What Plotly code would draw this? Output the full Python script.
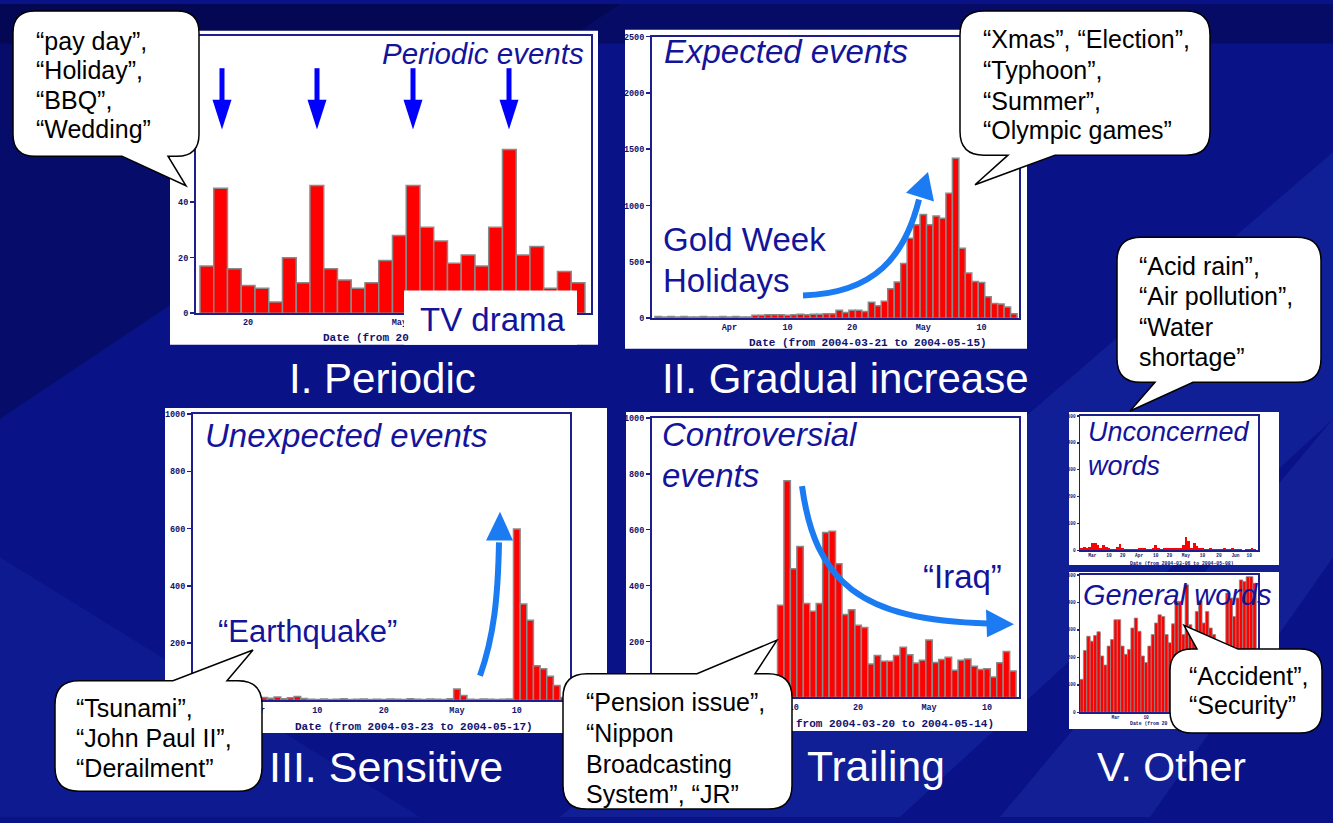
import plotly.graph_objects as go

W, H = 1333, 823

# ---------------- data ----------------
# I. Periodic ("TV drama")
periodic_counts = [17, 45, 16, 10, 9, 4, 20, 11, 46, 16, 12, 9, 11, 19,
                   28, 46, 31, 26, 18, 21, 17, 31, 59, 21, 24, 9, 15, 11]
periodic_tick_pos = [3, 14]
periodic_tick_text = ["20", "May"]
periodic_y_ticks = [0, 20, 40, 60, 80, 100]

# II. Gradual increase ("Gold Week Holidays"), 2004-03-21 .. 2004-05-15
gradual_counts = [15, 10, 15, 10, 15, 10, 10, 15, 10, 10, 15, 10, 15, 10, 10,
                  25, 25, 30, 30, 30, 25, 30, 35, 30, 35, 35, 40, 40,
                  70, 50, 70, 70, 60, 140, 110, 150, 260, 320, 485, 710, 830, 920,
                  830, 906, 886, 1110, 1420, 620, 400, 325, 316, 190, 130, 126, 100, 40]
gradual_tick_pos = [11, 20, 30, 41, 50]
gradual_tick_text = ["Apr", "10", "20", "May", "10"]
gradual_y_ticks = [0, 500, 1000, 1500, 2000, 2500]

# III. Sensitive ("Earthquake"), 2004-03-23 .. 2004-05-17
sensitive_counts = [5, 3, 8, 4, 6, 3, 5, 8, 4, 6,
                    10, 8, 12, 6, 9, 14, 7,
                    4, 3, 5, 3, 4, 6, 3, 4, 5, 3, 4, 3, 5, 4, 3, 6, 4, 3, 5, 4, 3, 6,
                    40, 17,
                    4, 3, 5, 4, 3, 4, 5,
                    598, 337, 280, 121, 111, 84, 52, 10]
sensitive_tick_pos = [9, 18, 28, 39, 48]
sensitive_tick_text = ["Apr", "10", "20", "May", "10"]
sensitive_y_ticks = [200, 400, 600, 800, 1000]

# IV. Trailing ("Iraq"), 2004-03-20 .. 2004-05-14
trailing_counts = [40, 55, 35, 60, 45, 50, 38, 62, 48, 55, 42, 70, 50, 45, 60, 52, 48, 58, 65,
                   330, 775, 460, 540, 336, 308, 336, 590, 595, 478, 297, 314, 258, 250,
                   120, 150, 130, 130, 150, 180, 153, 123, 133, 206, 125, 136, 144, 97,
                   133, 138, 112, 100, 103, 73, 124, 164, 95]
trailing_tick_pos = [21, 31, 42, 51]
trailing_tick_text = ["10", "20", "May", "10"]
trailing_y_ticks = [200, 400, 600, 800, 1000]

# V. Other - unconcerned words
unconcerned_counts = [10, 12, 10, 12, 27, 27, 20, 8, 18, 12, 10, 4, 6, 12, 22, 10,
                      3, 5, 4, 6, 5, 8, 10, 8, 5, 6, 10, 18, 8, 4, 9, 10,
                      8, 9, 10, 8, 7, 20, 49, 35, 10, 27, 15, 10, 8, 6, 4, 8,
                      5, 3, 6, 4, 8, 4, 6, 8, 3, 4, 3, 2, 6, 3, 8, 4]
unconcerned_tick_pos = [4, 10, 15, 21, 27, 32, 38, 44, 50, 56, 61]
unconcerned_tick_text = ["Mar", "10", "20", "Apr", "10", "20", "May", "10", "20", "Jun", "10"]

# V. Other - general words
general_counts = [120, 225, 277, 259, 280, 293, 205, 172, 241, 265, 337, 337, 241,
                  211, 229, 307, 343, 295, 205, 181, 241, 283, 325, 355, 349, 283,
                  253, 322, 404, 404, 283, 464, 319, 283, 367, 406, 325, 367, 307,
                  283, 211, 187, 211, 434, 416, 349, 416, 482, 476, 494, 494, 470]
general_tick_pos = [10, 19]
general_tick_text = ["Mar", "10"]
other_y_ticks = [0, 100, 200, 300, 400, 500]

# ---------------- styles ----------------
NAVY = "#14149a"
FRAME = "#1e1e8c"
TICK = "#12126e"
RED = "#ff0000"
GREY = "#8a8a8a"
CURVE = "#1b7bf3"
STRAIGHT = "#0000ff"
SANS = "Liberation Sans"
MONO = "Liberation Mono"


def PX(x):
    return x / W


def PY(y):
    return 1 - y / H


def P(x, y):
    return f"{PX(x):.5f},{PY(y):.5f}"


fig = go.Figure()

# panel definitions: counts, frame (x0,y0,x1,y1 px), x range, y range, ticks
panels = [
    dict(v=periodic_counts, f=(196, 32, 591, 313), xr=[-0.79, 27.94], yr=[0, 100],
         tp=periodic_tick_pos, tt=periodic_tick_text, yt=periodic_y_ticks, lw=1.5, fs=8.5),
    dict(v=gradual_counts, f=(652, 33, 1019, 318), xr=[-0.96, 55.8], yr=[0, 2500],
         tp=gradual_tick_pos, tt=gradual_tick_text, yt=gradual_y_ticks, lw=1.5, fs=8.5),
    dict(v=sensitive_counts, f=(193, 415, 570, 705), xr=[-0.7, 56.0], yr=[0, 1000],
         tp=sensitive_tick_pos, tt=sensitive_tick_text, yt=sensitive_y_ticks, lw=1.5, fs=8.5),
    dict(v=trailing_counts, f=(652, 419, 1019, 702), xr=[-0.96, 55.95], yr=[0, 1000],
         tp=trailing_tick_pos, tt=trailing_tick_text, yt=trailing_y_ticks, lw=1.5, fs=8.5),
    dict(v=unconcerned_counts, f=(1080, 417, 1258, 553), xr=[-0.5, 64.2], yr=[0, 500],
         tp=unconcerned_tick_pos, tt=unconcerned_tick_text, yt=other_y_ticks, lw=0, fs=4.5),
    dict(v=general_counts, f=(1080, 578, 1258, 717), xr=[-0.5, 52.0], yr=[0, 500],
         tp=general_tick_pos, tt=general_tick_text, yt=other_y_ticks, lw=0.8, fs=4.5),
]

layout_axes = {}
for i, p in enumerate(panels, start=1):
    sfx = "" if i == 1 else str(i)
    x0, y0, x1, y1 = p["f"]
    fig.add_trace(go.Bar(
        x=list(range(len(p["v"]))), y=p["v"], width=1,
        xaxis="x" + sfx, yaxis="y" + sfx,
        marker=dict(color=RED, line=dict(color=GREY, width=p["lw"])),
        hoverinfo="skip", showlegend=False))
    lw = 2 if i <= 4 else 1.5
    layout_axes["xaxis" + sfx] = dict(
        domain=[PX(x0), PX(x1)], range=p["xr"], anchor="y" + sfx,
        showline=True, mirror=True, linecolor=FRAME, linewidth=lw,
        showgrid=False, zeroline=False, ticks="",
        tickmode="array", tickvals=p["tp"], ticktext=p["tt"],
        tickfont=dict(family=MONO, size=p["fs"], color=TICK, weight="bold"),
        fixedrange=True)
    layout_axes["yaxis" + sfx] = dict(
        domain=[PY(y1), PY(y0)], range=p["yr"], anchor="x" + sfx,
        showline=True, mirror=True, linecolor=FRAME, linewidth=lw,
        showgrid=False, zeroline=False,
        ticks="outside", ticklen=4 if i <= 4 else 2, tickwidth=1.5, tickcolor=FRAME,
        tickmode="array", tickvals=p["yt"], ticktext=[str(t) for t in p["yt"]],
        tickfont=dict(family=MONO, size=p["fs"], color=TICK, weight="bold"),
        fixedrange=True)

shapes = []

# ---- background streaks ----
shapes.append(dict(type="rect", xref="paper", yref="paper", x0=0, x1=1, y0=PY(40), y1=1,
                   fillcolor="rgba(0,0,40,0.35)", line=dict(width=0), layer="below"))
shapes.append(dict(type="path", xref="paper", yref="paper", layer="below",
                   path=f"M {P(0,0)} L {P(620,0)} L {P(0,420)} Z",
                   fillcolor="rgba(0,0,40,0.30)", line=dict(width=0)))
shapes.append(dict(type="path", xref="paper", yref="paper", layer="below",
                   path=f"M {P(560,823)} L {P(1333,150)} L {P(1333,420)} L {P(900,823)} Z",
                   fillcolor="rgba(70,120,255,0.13)", line=dict(width=0)))
shapes.append(dict(type="path", xref="paper", yref="paper", layer="below",
                   path=f"M {P(1000,823)} L {P(1333,420)} L {P(1333,560)} L {P(1150,823)} Z",
                   fillcolor="rgba(90,140,255,0.12)", line=dict(width=0)))
shapes.append(dict(type="path", xref="paper", yref="paper", layer="below",
                   path=f"M {P(0,823)} L {P(0,560)} L {P(420,823)} Z",
                   fillcolor="rgba(60,100,230,0.10)", line=dict(width=0)))

# ---- white chart panels ----
for (a, b, c, d) in [(170, 27, 598, 345), (625, 26, 1027, 349), (165, 409, 607, 738),
                     (626, 413, 1027, 736), (1069, 413, 1279, 568), (1069, 575, 1279, 734)]:
    shapes.append(dict(type="rect", xref="paper", yref="paper", layer="below",
                       x0=PX(a), x1=PX(c), y0=PY(d), y1=PY(b),
                       fillcolor="white", line=dict(width=0)))

# ---- "TV drama" label box ----
shapes.append(dict(type="rect", xref="paper", yref="paper", layer="above",
                   x0=PX(404), x1=PX(577), y0=PY(345), y1=PY(290),
                   fillcolor="white", line=dict(width=0)))

# ---- straight arrows (periodic peaks) ----
for ax in [222, 317, 413, 509]:
    shapes.append(dict(type="line", xref="paper", yref="paper", layer="above",
                       x0=PX(ax), x1=PX(ax), y0=PY(65), y1=PY(100),
                       line=dict(color=STRAIGHT, width=5)))
    shapes.append(dict(type="path", xref="paper", yref="paper", layer="above",
                       path=f"M {P(ax-9.5,97)} L {P(ax+9.5,97)} L {P(ax,127)} Z",
                       fillcolor=STRAIGHT, line=dict(width=0)))


def curve_arrow(p0, c1, c2, p3, tip, ba, bb):
    shapes.append(dict(type="path", xref="paper", yref="paper", layer="above",
                       path=f"M {P(*p0)} C {P(*c1)} {P(*c2)} {P(*p3)}",
                       line=dict(color=CURVE, width=6)))
    shapes.append(dict(type="path", xref="paper", yref="paper", layer="above",
                       path=f"M {P(*ba)} L {P(*tip)} L {P(*bb)} Z",
                       fillcolor=CURVE, line=dict(width=0)))


curve_arrow((803, 295), (875, 293), (905, 255), (919, 198), (928, 170), (906, 191), (934, 200))
curve_arrow((480, 680), (494, 640), (498, 600), (499, 545), (500, 514), (486, 543), (513, 543))
curve_arrow((802, 488), (815, 585), (860, 624), (988, 627), (1014, 628), (986, 613), (987, 641))


# ---- speech bubbles ----
def bubble(x0, y0, x1, y1, r, tail, side):
    d = f"M {P(x0 + r, y0)}"
    if side == "top":
        a, t, b = tail
        d += f" L {P(*a)} L {P(*t)} L {P(*b)}"
    d += f" L {P(x1 - r, y0)} Q {P(x1, y0)} {P(x1, y0 + r)}"
    d += f" L {P(x1, y1 - r)} Q {P(x1, y1)} {P(x1 - r, y1)}"
    if side == "bottom":
        a, t, b = tail
        d += f" L {P(*a)} L {P(*t)} L {P(*b)}"
    d += f" L {P(x0 + r, y1)} Q {P(x0, y1)} {P(x0, y1 - r)}"
    d += f" L {P(x0, y0 + r)} Q {P(x0, y0)} {P(x0 + r, y0)} Z"
    shapes.append(dict(type="path", xref="paper", yref="paper", layer="above", path=d,
                       fillcolor="white", line=dict(color="black", width=1.5)))


bubble(13, 7, 199, 154, 22, [(168, 154), (186, 184), (122, 154)], "bottom")
bubble(960, 7, 1210, 153, 24, [(1055, 153), (975, 183), (1008, 153)], "bottom")
bubble(1117, 236, 1321, 383, 24, [(1193, 383), (1130, 412), (1155, 383)], "bottom")
bubble(55, 685, 262, 797, 24, [(173, 685), (253, 654), (227, 685)], "top")
bubble(563, 678, 792, 815, 24, [(697, 678), (777, 644), (755, 678)], "top")
bubble(1170, 653, 1322, 738, 22, [(1197, 653), (1184, 629), (1238, 653)], "top")

# ---------------- texts ----------------
ann = []


def txt(x, y, s, size, color, xanchor="left", family=SANS, style="normal", weight="normal"):
    ann.append(dict(x=PX(x), y=PY(y), xref="paper", yref="paper", text=s, showarrow=False,
                    xanchor=xanchor, yanchor="middle", align="left",
                    font=dict(family=family, size=size, color=color, style=style, weight=weight)))


# panel titles
txt(586, 50, "Periodic events", 29.5, NAVY, xanchor="right", style="italic")
txt(662, 48, "Expected events", 33, NAVY, style="italic")
txt(203, 437, "Unexpected events", 33, NAVY, style="italic")
txt(660, 436, "Controversial", 33, NAVY, style="italic")
txt(660, 477, "events", 33, NAVY, style="italic")
txt(1086, 433, "Unconcerned", 27, NAVY, style="italic")
txt(1086, 468, "words", 27, NAVY, style="italic")
txt(1081, 598, "General words", 29, NAVY, style="italic")

# in-chart labels
txt(418, 319, "TV drama", 33, NAVY)
txt(661, 238, "Gold Week", 33, NAVY)
txt(661, 280, "Holidays", 33, NAVY)
txt(216, 635, "\u201cEarthquake\u201d", 31, NAVY)
txt(921, 580, "\u201cIraq\u201d", 33, NAVY)

# axis captions (parts hidden by the overlays in the reference are left out)
txt(321, 338, "Date (from 20", 11, TICK, family=MONO, weight="bold")
txt(868, 343, "Date (from 2004-03-21 to 2004-05-15)", 11, TICK, xanchor="center", family=MONO, weight="bold")
txt(414, 732, "Date (from 2004-03-23 to 2004-05-17)", 11, TICK, xanchor="center", family=MONO, weight="bold")
txt(794, 729, "from 2004-03-20 to 2004-05-14)", 11, TICK, family=MONO, weight="bold")
txt(1182, 566, "Date (from 2004-03-06 to 2004-05-08)", 4.8, TICK, xanchor="center", family=MONO, weight="bold")
txt(1128, 728, "Date (from 20", 4.8, TICK, family=MONO, weight="bold")

# slide category labels
txt(382, 379, "I. Periodic", 42, "white", xanchor="center")
txt(845, 379, "II. Gradual increase", 42, "white", xanchor="center")
txt(386, 772, "III. Sensitive", 43, "white", xanchor="center")
txt(805, 772, "Trailing", 42.5, "white")
txt(1095, 772, "V. Other", 41, "white")

# bubble texts
Q1, Q2 = "\u201c", "\u201d"
for x, ys, lines in [
    (34, [37, 67, 97, 127], [f"{Q1}pay day{Q2},", f"{Q1}Holiday{Q2},", f"{Q1}BBQ{Q2},", f"{Q1}Wedding{Q2}"]),
    (981, [35, 67, 98, 128], [f"{Q1}Xmas{Q2}, {Q1}Election{Q2},", f"{Q1}Typhoon{Q2},", f"{Q1}Summer{Q2},",
                              f"{Q1}Olympic games{Q2}"]),
    (1137, [265, 296, 327, 357], [f"{Q1}Acid rain{Q2},", f"{Q1}Air pollution{Q2},", f"{Q1}Water",
                                  f"shortage{Q2}"]),
    (74, [713, 743, 773], [f"{Q1}Tsunami{Q2},", f"{Q1}John Paul II{Q2},", f"{Q1}Derailment{Q2}"]),
    (584, [707, 738, 769, 800], [f"{Q1}Pension issue{Q2},", f"{Q1}Nippon", "Broadcasting",
                                 f"System{Q2}, {Q1}JR{Q2}"]),
    (1187, [680, 710], [f"{Q1}Accident{Q2},", f"{Q1}Security{Q2}"]),
]:
    for y, s in zip(ys, lines):
        txt(x, y, s, 25, "black")

fig.update_layout(
    width=W, height=H, margin=dict(l=0, r=0, t=0, b=0),
    paper_bgcolor="#0a1287", plot_bgcolor="white",
    bargap=0, showlegend=False,
    shapes=shapes, annotations=ann,
    **layout_axes)

fig.write_html("out.html", config={"displayModeBar": False, "staticPlot": True},
               post_script="document.body.style.margin='0';document.body.style.overflow='hidden';")
